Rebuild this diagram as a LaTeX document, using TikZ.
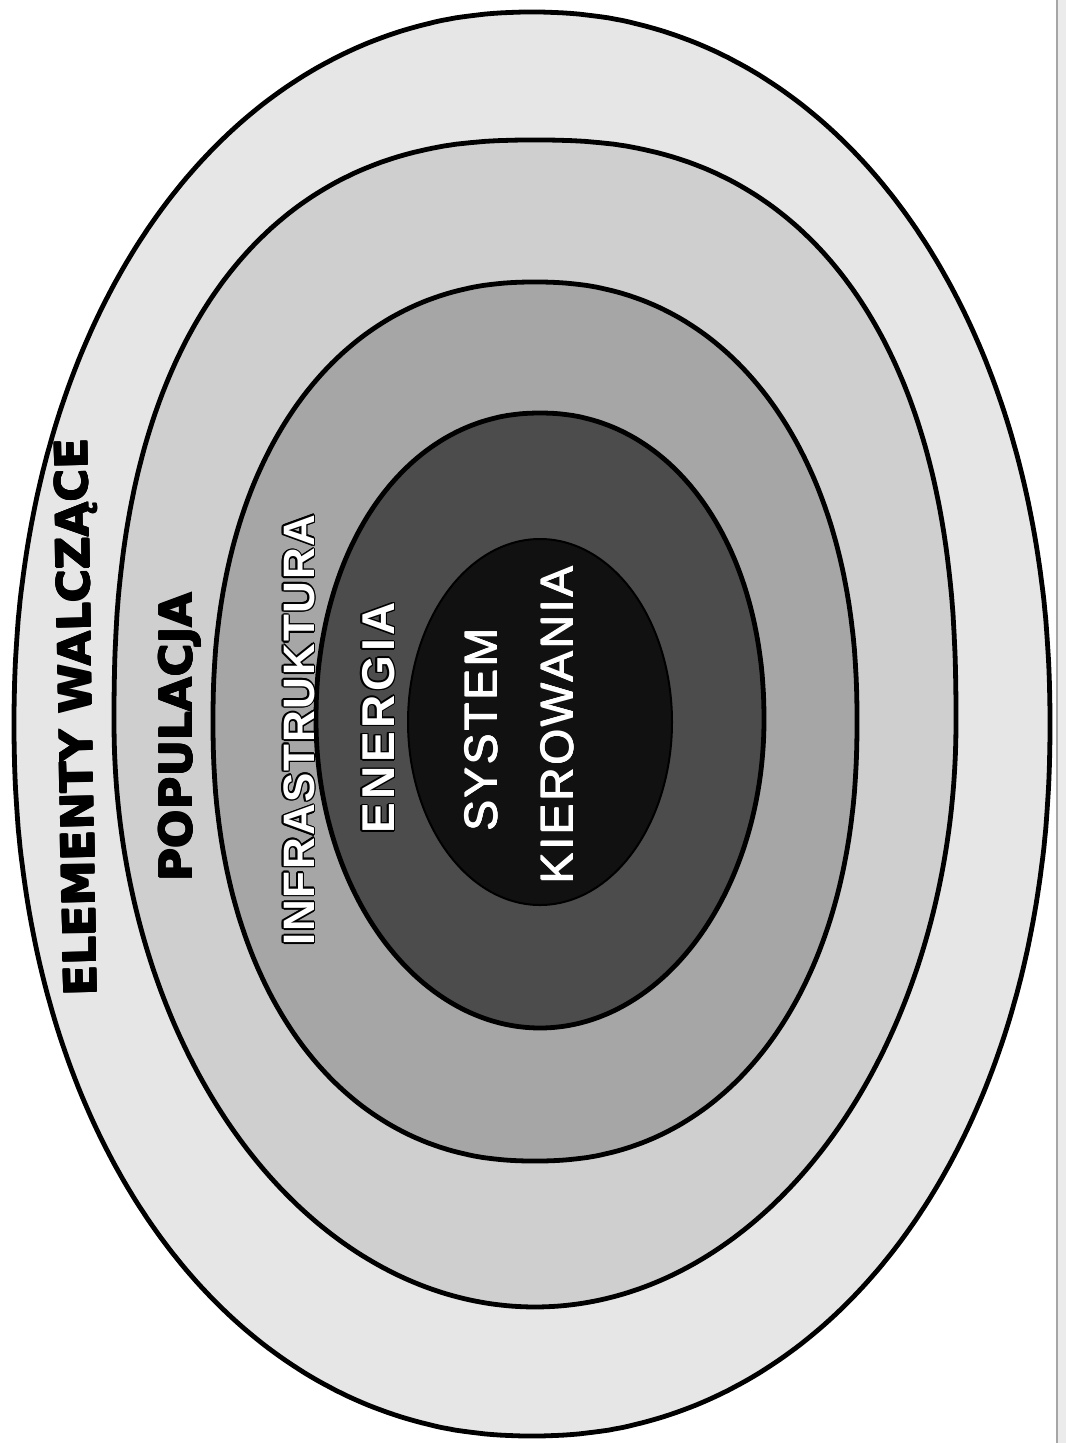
\documentclass[tikz,border=0pt]{standalone}
\usepackage{fontspec}
\setmainfont{Liberation Sans}
\newfontfamily\heavy{DejaVu Sans}[BoldFont=* Bold]
\definecolor{ringA}{HTML}{E6E6E6}
\definecolor{ringB}{HTML}{CFCFCF}
\definecolor{ringC}{HTML}{A6A6A6}
\definecolor{ringD}{HTML}{4C4C4C}
\definecolor{ringE}{HTML}{111111}
% superellipse ring: #1 style, #2 cx, #3 cy, #4 a, #5 b top, #6 b bottom, #7 n top, #8 n bottom
\newcommand{\sering}[8]{%
  \path[#1]
    plot[domain=0:90,samples=120,variable=\t] ({#2+#4*pow(max(cos(\t),0.0001),2/#7)},{#3-#5*pow(max(sin(\t),0.0001),2/#7)})
    -- plot[domain=90:0,samples=120,variable=\t] ({#2-#4*pow(max(cos(\t),0.0001),2/#7)},{#3-#5*pow(max(sin(\t),0.0001),2/#7)})
    -- plot[domain=0:90,samples=120,variable=\t] ({#2-#4*pow(max(cos(\t),0.0001),2/#8)},{#3+#6*pow(max(sin(\t),0.0001),2/#8)})
    -- plot[domain=90:0,samples=120,variable=\t] ({#2+#4*pow(max(cos(\t),0.0001),2/#8)},{#3+#6*pow(max(sin(\t),0.0001),2/#8)})
    -- cycle;}
\begin{document}
\begin{tikzpicture}[x=1pt,y=-1pt,
  ring/.style={draw=black,line width=4.8pt,line join=round},
  lbl/.style={rotate=90,anchor=base,inner sep=0pt,outer sep=0pt},
  blk/.style={lbl,text=black,font=\heavy\bfseries\fontsize{45}{45}\selectfont},
  infr/.style={lbl,font=\bfseries\fontsize{44}{44}\selectfont\addfontfeatures{LetterSpace=4}},
  ener/.style={lbl,font=\bfseries\fontsize{46}{46}\selectfont\addfontfeatures{LetterSpace=8}},
  sysk/.style={lbl,text=white,font=\fontsize{46}{46}\selectfont\addfontfeatures{LetterSpace=6}}]
\useasboundingbox (0,0) rectangle (1066,1443);
\fill[white] (0,0) rectangle (1066,1443);
% scan edge
\fill[black!8] (1057,0) rectangle (1066,1443);
\draw[black!35,line width=1.5pt] (1057,0) -- (1057,1443);
% rings
\sering{ring,fill=ringA}{532}{724}{518}{712}{712}{2.1}{2.1}
\sering{ring,fill=ringB}{535}{723}{421}{583}{584}{2.4}{2.0}
\sering{ring,fill=ringC}{535}{721}{322}{439}{440}{2.2}{2.2}
\sering{ring,fill=ringD}{540}{720}{224}{307}{308}{2.1}{2.0}
\sering{draw=black,line width=2pt,fill=ringE}{540}{722}{132}{183}{183}{2.0}{2.0}
% black labels (slightly thickened)
\foreach \a in {0,60,...,300}{
  \node[blk,rotate=1,shift={(\a:0.7)}] (elemo\a) at (92,717) {ELEMENTY WALCZĄCE};
  \node[blk,shift={(\a:0.7)}] (popuo\a) at (192,737) {POPULACJA};
}
\node[blk,rotate=1] (elem) at (92,717) {ELEMENTY WALCZĄCE};
\node[blk] (popu) at (192,737) {POPULACJA};
% outlined white labels
\foreach \a in {0,30,...,330}{
  \node[infr,text=black,shift={(\a:1.6)}] (infro\a) at (314,730) {INFRASTRUKTURA};
  \node[ener,text=black,shift={(\a:1.4)}] (enero\a) at (394,718) {ENERGIA};
}
\node[infr,text=white] (infra) at (314,730) {INFRASTRUKTURA};
\node[ener,text=white] (energ) at (394,718) {ENERGIA};
\foreach \a in {0,90,180,270}{
  \node[sysk,shift={(\a:0.5)}] (systo\a) at (497,730) {SYSTEM};
  \node[sysk,shift={(\a:0.5)}] (kiero\a) at (573,725) {KIEROWANIA};
}
\node[sysk] (syst) at (497,730) {SYSTEM};
\node[sysk] (kier) at (573,725) {KIEROWANIA};
\end{tikzpicture}
\end{document}
